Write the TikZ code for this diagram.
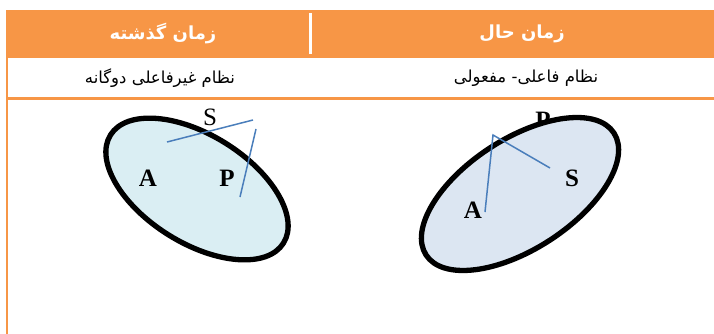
\documentclass[tikz,border=0pt]{standalone}
\usepackage{fontspec}
\setmainfont{Liberation Serif}
\newfontfamily\farsi[Script=Arabic]{DejaVu Sans}
\TeXXeTstate=1
\definecolor{headorange}{HTML}{F79646}
\definecolor{linkblue}{HTML}{4A7EBB}
\definecolor{pastfill}{HTML}{DAEEF3}
\definecolor{nowfill}{HTML}{DCE6F2}
\begin{document}
\begin{tikzpicture}[x=1pt, y=-1pt,
                    every node/.style={inner sep=0pt},
                    head/.style={text=white, font=\farsi\bfseries\fontsize{18}{18}\selectfont},
                    sub/.style={font=\farsi\fontsize{16.5}{16.5}\selectfont},
                    letter/.style={font=\bfseries\fontsize{25}{25}\selectfont},
                    bubble/.style={line width=5.3pt},
                    link/.style={draw=linkblue, line width=1.5pt}]
\useasboundingbox (0,0) rectangle (714,334);
% table frame
\fill[headorange] (6,10) rectangle (714,58);
\draw[white, line width=2.5pt] (310.5,13) -- (310.5,54);
\draw[headorange, line width=2.5pt] (7,58) -- (7,334);
\draw[headorange, line width=3pt] (6,98.5) -- (714,98.5);
\node[head] (past) at (163,34) {\beginR زمان گذشته\endR};
\node[head] (now) at (522,34) {\beginR زمان حال\endR};
\node[sub] (pastsys) at (160,78) {\beginR نظام غیرفاعلی دوگانه\endR};
\node[sub] (nowsys) at (526,78) {\beginR نظام فاعلی- مفعولی\endR};
% past: dual non-subject system
\draw[bubble, fill=pastfill, rotate around={-32:(197,189)}] (197,189) ellipse [x radius=102, y radius=54];
\node[letter, font=\fontsize{25}{25}\selectfont] (sL) at (210,117) {S};
\node[letter] (aL) at (148,178) {A};
\node[letter] (pL) at (227,178) {P};
\coordinate (s1) at (167,142);
\coordinate (s2) at (253,120);
\coordinate (p1) at (256,129);
\coordinate (p2) at (240,197);
\draw[link] (s1) -- (s2);
\draw[link] (p1) -- (p2);
% now: subject-object system
\node[letter] (pR) at (543,120) {P};
\draw[bubble, fill=nowfill, rotate around={33:(520,194)}] (520,194) ellipse [x radius=112, y radius=55];
\node[letter] (aR) at (473,210) {A};
\node[letter] (sR) at (572,178) {S};
\coordinate (top) at (493,135);
\coordinate (a1) at (485,212);
\coordinate (s3) at (550,168);
\draw[link] (a1) -- (top) -- (s3);
\end{tikzpicture}
\end{document}
